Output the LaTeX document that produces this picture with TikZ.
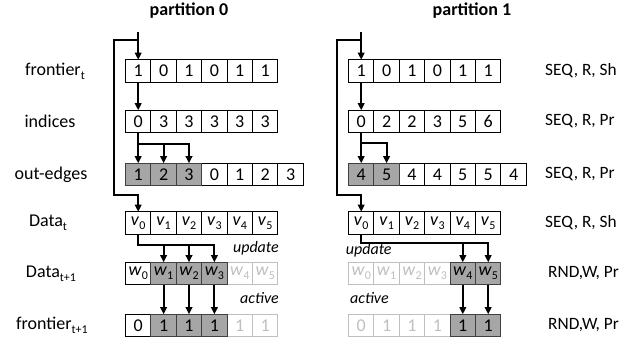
\documentclass[tikz,border=0pt]{standalone}
\usepackage{fontspec}
\setmainfont{Carlito}
\usetikzlibrary{arrows.meta}
\definecolor{fillg}{HTML}{A6A6A6}
\definecolor{lightg}{HTML}{BFBFBF}
\definecolor{darkb}{HTML}{404040}
\newcommand\lsub[1]{\raisebox{-0.5ex}{\fontsize{12}{12}\selectfont #1}}
\newcommand\vsym[1]{\textit{v}\lsub{#1}}
\newcommand\wsym[1]{\textit{w}\lsub{#1}}
\begin{document}
\begin{tikzpicture}[x=1pt,y=-1pt,
 cell/.style={draw=black, line width=0.9pt, minimum width=25.4pt, minimum height=22.5pt, inner sep=0pt, outer sep=0pt, font=\fontsize{18}{20}\selectfont},
 hot/.style={cell, fill=fillg, draw=darkb},
 dim/.style={cell, draw=lightg, text=lightg},
 lbl/.style={font=\fontsize{18}{20}\selectfont, inner sep=0pt},
 rlbl/.style={font=\fontsize{17.3}{19}\selectfont, inner sep=0pt, anchor=west},
 note/.style={font=\fontsize{16}{18}\selectfont\itshape, inner sep=0pt},
 ttl/.style={font=\fontsize{18}{20}\selectfont\bfseries, inner sep=0pt},
 arr/.style={line width=2pt, -{Triangle[length=7pt,width=6.5pt]}},
]
\useasboundingbox (0,0) rectangle (638,347);

% ---------- partition 0 (x0 = 125.5) ----------
\foreach \v [count=\i from 0] in {1,0,1,0,1,1}
  \node[cell] (af\i) at ({125.5+25.4*(\i+0.5)},71) {\v};
\foreach \v [count=\i from 0] in {0,3,3,3,3,3}
  \node[cell] (ax\i) at ({125.5+25.4*(\i+0.5)},121.5) {\v};
\foreach \v [count=\i from 3] in {0,1,2,3}
  \node[cell] (ae\i) at ({125.5+25.4*(\i+0.5)},174.5) {\v};
\foreach \v [count=\i from 0] in {1,2,3}
  \node[hot] (ae\i) at ({125.5+25.4*(\i+0.5)},174.5) {\v};
\foreach \i in {0,...,5}
  \node[cell] (ad\i) at ({125.5+25.4*(\i+0.5)},223) {\vsym{\i}};
\foreach \i in {4,5}
  \node[dim] (an\i) at ({125.5+25.4*(\i+0.5)},273.5) {\wsym{\i}};
\node[cell] (an0) at ({125.5+25.4*0.5},273.5) {\wsym{0}};
\foreach \i in {1,2,3}
  \node[hot] (an\i) at ({125.5+25.4*(\i+0.5)},273.5) {\wsym{\i}};
\foreach \i in {4,5}
  \node[dim] (ag\i) at ({125.5+25.4*(\i+0.5)},325.5) {1};
\node[cell] (ag0) at ({125.5+25.4*0.5},325.5) {0};
\foreach \i in {1,2,3}
  \node[hot] (ag\i) at ({125.5+25.4*(\i+0.5)},325.5) {1};

% ---------- partition 1 (x0 = 348.5) ----------
\foreach \v [count=\i from 0] in {1,0,1,0,1,1}
  \node[cell] (bf\i) at ({348.5+25.4*(\i+0.5)},71) {\v};
\foreach \v [count=\i from 0] in {0,2,2,3,5,6}
  \node[cell] (bx\i) at ({348.5+25.4*(\i+0.5)},121.5) {\v};
\foreach \v [count=\i from 2] in {4,4,5,5,4}
  \node[cell] (be\i) at ({348.5+25.4*(\i+0.5)},174.5) {\v};
\foreach \v [count=\i from 0] in {4,5}
  \node[hot] (be\i) at ({348.5+25.4*(\i+0.5)},174.5) {\v};
\foreach \i in {0,...,5}
  \node[cell] (bd\i) at ({348.5+25.4*(\i+0.5)},223) {\vsym{\i}};
\foreach \i in {0,...,3}
  \node[dim] (bn\i) at ({348.5+25.4*(\i+0.5)},273.5) {\wsym{\i}};
\foreach \i in {4,5}
  \node[hot] (bn\i) at ({348.5+25.4*(\i+0.5)},273.5) {\wsym{\i}};
\foreach \v [count=\i from 0] in {0,1,1,1}
  \node[dim] (bg\i) at ({348.5+25.4*(\i+0.5)},325.5) {\v};
\foreach \i in {4,5}
  \node[hot] (bg\i) at ({348.5+25.4*(\i+0.5)},325.5) {1};

% ---------- connectors partition 0 ----------
\coordinate (atop) at (138.2,32);
\coordinate (aloopa) at (138.2,40);
\coordinate (aloopb) at (114,40);
\coordinate (aloopc) at (114,195);
\coordinate (aloopd) at (138.2,195);
\coordinate (abr) at (138.2,144);
\coordinate (adr) at (138.2,245);
\draw[arr] (atop) -- (af0.north);
\draw[arr] (aloopa) -- (aloopb) -- (aloopc) -- (aloopd) -- (ad0.north);
\draw[arr] (af0.south) -- (ax0.north);
\draw[arr] (ax0.south) -- (ae0.north);
\draw[arr] (abr) -| (ae2.north);
\draw[arr] (abr) -| (ae1.north);
\draw[arr] (ad0.south) -- (adr) -| (an3.north);
\draw[arr] (adr) -| (an1.north);
\draw[arr] (adr) -| (an2.north);
\foreach \i in {1,2,3} \draw[arr] (an\i.south) -- (ag\i.north);

% ---------- connectors partition 1 ----------
\coordinate (btop) at (361.2,32);
\coordinate (bloopa) at (361.2,40);
\coordinate (bloopb) at (336.7,40);
\coordinate (bloopc) at (336.7,195);
\coordinate (bloopd) at (361.2,195);
\coordinate (bbr) at (361.2,143.5);
\coordinate (bdr) at (361.2,243.5);
\draw[arr] (btop) -- (bf0.north);
\draw[arr] (bloopa) -- (bloopb) -- (bloopc) -- (bloopd) -- (bd0.north);
\draw[arr] (bf0.south) -- (bx0.north);
\draw[arr] (bx0.south) -- (be0.north);
\draw[arr] (bbr) -| (be1.north);
\draw[arr] (bd0.south) -- (bdr) -| (bn5.north);
\draw[arr] (bdr) -| (bn4.north);
\foreach \i in {4,5} \draw[arr] (bn\i.south) -- (bg\i.north);

% ---------- labels ----------
\node[ttl] (t0) at (189,11) {partition 0};
\node[ttl] (t1) at (472,11) {partition 1};
\node[lbl] (lf) at (55,71) {frontier\lsub{t}};
\node[lbl] (lx) at (50,121.5) {indices};
\node[lbl] (le) at (51,174.5) {out-edges};
\node[lbl] (ld) at (48,223) {Data\lsub{t}};
\node[lbl] (ln) at (51,273.5) {Data\lsub{t+1}};
\node[lbl] (lg) at (52,325.5) {frontier\lsub{t+1}};
\node[rlbl] (rf) at (545,71) {SEQ, R, Sh};
\node[rlbl] (rx) at (545,121.5) {SEQ, R, Pr};
\node[rlbl] (re) at (545,174.5) {SEQ, R, Pr};
\node[rlbl] (rd) at (545,223) {SEQ, R, Sh};
\node[rlbl] (rn) at (548,273.5) {RND,W, Pr};
\node[rlbl] (rg) at (548,325.5) {RND,W, Pr};
\node[note, anchor=east] (au) at (279,248) {update};
\node[note, anchor=east] (aa) at (279,298) {active};
\node[note, anchor=west] (bu) at (345.7,250) {update};
\node[note, anchor=west] (ba) at (350,298) {active};
\end{tikzpicture}
\end{document}
